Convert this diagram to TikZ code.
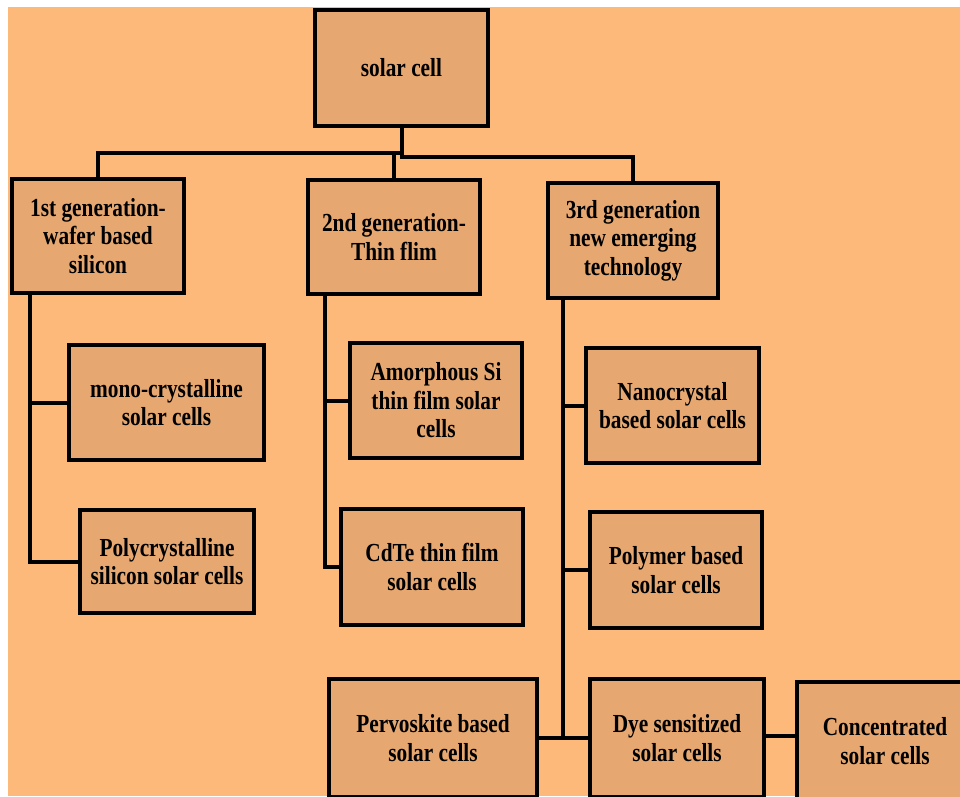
\documentclass[tikz,border=0pt]{standalone}
\usepackage{fontspec}
\setmainfont{Liberation Serif}[FakeStretch=0.82]
\usepackage{tikz}

\definecolor{sheet}{RGB}{253,185,122}
\definecolor{cellfill}{RGB}{230,168,112}

\begin{document}
\begin{tikzpicture}[x=1pt, y=-1pt,
	box/.style={draw, line width=4pt, fill=cellfill, inner sep=0pt, align=center,
		font=\bfseries\fontsize{26}{28.5}\selectfont},
	link/.style={line width=4pt, line cap=rect}]
\useasboundingbox (0,0) rectangle (960,796);
\clip (0,0) rectangle (960,796);
\fill[sheet] (8,7) rectangle (960,796);

% root and generations
\node[box, minimum width=173pt, minimum height=116pt] (cell) at (401.5,68) {solar cell};
\node[box, minimum width=172pt, minimum height=114pt] (gen1) at (98,236) {1st generation-\\wafer based\\silicon};
\node[box, minimum width=172pt, minimum height=114pt] (gen2) at (394,237) {2nd generation-\\Thin flim};
\node[box, minimum width=170pt, minimum height=115pt] (gen3) at (633,240.5) {3rd generation\\new emerging\\technology};

% cell types
\node[box, minimum width=195pt, minimum height=115pt] (mono) at (166.5,402.5) {mono-crystalline\\solar cells};
\node[box, minimum width=174pt, minimum height=103pt] (poly) at (167,561.5) {Polycrystalline\\silicon solar cells};
\node[box, minimum width=172pt, minimum height=115pt] (amorph) at (436,400.5) {Amorphous Si\\thin film solar\\cells};
\node[box, minimum width=182pt, minimum height=116pt] (cdte) at (432,567) {CdTe thin film\\solar cells};
\node[box, minimum width=173pt, minimum height=115pt] (nano) at (672.5,405.5) {Nanocrystal\\based solar cells};
\node[box, minimum width=172pt, minimum height=116pt] (polymer) at (676,570) {Polymer based\\solar cells};
\node[box, minimum width=208pt, minimum height=118pt] (pervo) at (433,738) {Pervoskite based\\solar cells};
\node[box, minimum width=174pt, minimum height=118pt] (dye) at (677,738) {Dye sensitized\\solar cells};
\node[box, minimum width=176pt, minimum height=118pt] (conc) at (885,741) {Concentrated\\solar cells};

% tree from the root
\draw[link] (cell.south) -- ++(0,29);
\draw[link] (cell.south) ++(0,25) -| (gen1.north);
\draw[link] (gen2.north) -- ++(0,-25);
\draw[link] (cell.south) ++(0,29) -| (gen3.north);

% spines under each generation
\coordinate (sp1) at ([xshift=20pt]gen1.south west);
\coordinate (sp2) at ([xshift=19pt]gen2.south west);
\coordinate (sp3) at ([xshift=17pt]gen3.south west);
\draw[link] (sp1) |- (poly.west);
\draw[link] (sp2) |- (cdte.west);
\draw[link] (sp3) -- (sp3 |- pervo.east);
\foreach \s/\c in {sp1/mono, sp2/amorph, sp3/nano, sp3/polymer}
	\draw[link] (\c.west) -- (\c.west -| \s);
\draw[link] (pervo.east) -- (dye.west);
\draw[link] ([yshift=2pt]dye.east) -- ([yshift=2pt]dye.east -| conc.west);
\end{tikzpicture}
\end{document}
